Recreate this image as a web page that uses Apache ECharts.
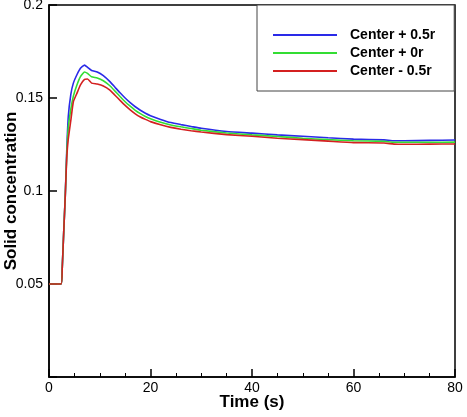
<!DOCTYPE html>
<html>
<head>
<meta charset="utf-8">
<script src="https://cdn.jsdelivr.net/npm/echarts@6/dist/echarts.min.js"></script>
<style>
  html, body { margin: 0; padding: 0; background: #fff; }
  #chart { width: 467px; height: 417px; }
</style>
</head>
<body>
<div id="chart"></div>
<script>
// time points (s)
var times = [0, 2.4, 2.6, 2.9, 3.2, 3.5, 3.8, 4.3, 4.8, 5.5, 6.2, 7, 7.6, 8.4, 9.5, 10.7, 12, 13, 14, 15, 16, 17, 18, 19, 20, 22, 24, 26, 28, 30, 35, 40, 45, 50, 55, 60, 66, 68, 70, 75, 80];

// solid concentration
var centerPlus05 = [0.05, 0.05, 0.058, 0.078, 0.097, 0.122, 0.14, 0.152, 0.158, 0.1625, 0.166, 0.1677, 0.1665, 0.1648, 0.164, 0.162, 0.1588, 0.1558, 0.1528, 0.15, 0.1475, 0.1453, 0.1434, 0.1418, 0.1405, 0.1385, 0.1368, 0.1357, 0.1347, 0.1337, 0.132, 0.1311, 0.1302, 0.1294, 0.1286, 0.1279, 0.1275, 0.127, 0.127, 0.1272, 0.1274];
var center0 = [0.05, 0.05, 0.058, 0.078, 0.097, 0.12, 0.134, 0.144, 0.151, 0.157, 0.1615, 0.164, 0.1632, 0.1614, 0.1608, 0.1593, 0.1566, 0.1537, 0.1508, 0.148, 0.1456, 0.1434, 0.1416, 0.1401, 0.1389, 0.137, 0.1355, 0.1345, 0.1336, 0.1327, 0.1312, 0.1302, 0.1293, 0.1284, 0.1276, 0.127, 0.1267, 0.1262, 0.1262, 0.1262, 0.1263];
var centerMinus05 = [0.05, 0.05, 0.058, 0.078, 0.097, 0.118, 0.128, 0.138, 0.148, 0.1525, 0.157, 0.16, 0.1602, 0.158, 0.1575, 0.1565, 0.1543, 0.1515, 0.1487, 0.146, 0.1436, 0.1415, 0.1398, 0.1385, 0.1373, 0.1356, 0.1342, 0.1332, 0.1324, 0.1317, 0.1303, 0.1294, 0.1284, 0.1276, 0.1268, 0.126, 0.1258, 0.1252, 0.1251, 0.1252, 0.1253];

var seriesNames = ['Center + 0.5r', 'Center + 0r', 'Center - 0.5r'];
var seriesColors = ['#2a2ae8', '#33dd33', '#d42020'];

function pairs(vals) {
    return times.map(function (t, i) { return [t, vals[i]]; });
}

var myChart = echarts.init(document.getElementById('chart'));

var lineIcon = 'path://M0,0 L64,0 L64,2 L0,2 Z';

var option = {
    animation: false,
    backgroundColor: '#fff',
    textStyle: { fontFamily: 'Liberation Sans, Arial, sans-serif' },
    grid: {
        left: 49, right: 12, top: 5, bottom: 40,
        outerBoundsMode: 'none',
        containLabel: false,
        show: true, borderColor: '#000', borderWidth: 1.5, backgroundColor: 'transparent'
    },
    legend: {
        left: 257, top: 5,
        orient: 'vertical',
        backgroundColor: '#fff',
        borderColor: '#444',
        borderWidth: 1,
        padding: [23, 19, 13, 16],
        itemGap: 4,
        itemWidth: 64,
        itemHeight: 2,
        icon: lineIcon,
        textStyle: { fontSize: 14, fontWeight: 'bold', color: '#000', padding: [0, 0, 0, 8] },
        data: seriesNames.map(function (n, i) {
            return { name: n, itemStyle: { color: seriesColors[i] } };
        })
    },
    xAxis: {
        type: 'value',
        min: 0, max: 80, interval: 20,
        name: 'Time (s)',
        nameLocation: 'middle',
        nameGap: 17,
        nameMoveOverlap: false,
        nameTextStyle: { fontSize: 17, fontWeight: 'bold', color: '#000' },
        axisLine: { lineStyle: { color: '#000', width: 1.5 } },
        axisTick: { inside: true, length: 8, lineStyle: { color: '#000', width: 1.5 } },
        minorTick: { show: true, splitNumber: 4, length: 4, lineStyle: { color: '#000', width: 1 } },
        axisLabel: { fontSize: 14, color: '#000', margin: 4 },
        splitLine: { show: false }
    },
    yAxis: {
        type: 'value',
        min: 0, max: 0.2, interval: 0.05,
        name: 'Solid concentration',
        nameLocation: 'middle',
        nameGap: 29,
        nameMoveOverlap: false,
        nameTextStyle: { fontSize: 17, fontWeight: 'bold', color: '#000' },
        axisLine: { show: true, lineStyle: { color: '#000', width: 1.5 } },
        axisTick: { show: true, inside: true, length: 8, lineStyle: { color: '#000', width: 1.5 } },
        axisLabel: {
            fontSize: 14, color: '#000', margin: 6,
            formatter: function (v) { return v === 0 ? '' : String(+v.toFixed(2)); }
        },
        splitLine: { show: false }
    },
    series: [
        { name: seriesNames[0], type: 'line', data: pairs(centerPlus05) },
        { name: seriesNames[1], type: 'line', data: pairs(center0) },
        { name: seriesNames[2], type: 'line', data: pairs(centerMinus05) }
    ].map(function (s, i) {
        s.showSymbol = false;
        s.symbol = 'none';
        s.smooth = 0.15;
        s.lineStyle = { color: seriesColors[i], width: 1.6 };
        s.itemStyle = { color: seriesColors[i] };
        return s;
    })
};

myChart.setOption(option);
</script>
</body>
</html>
